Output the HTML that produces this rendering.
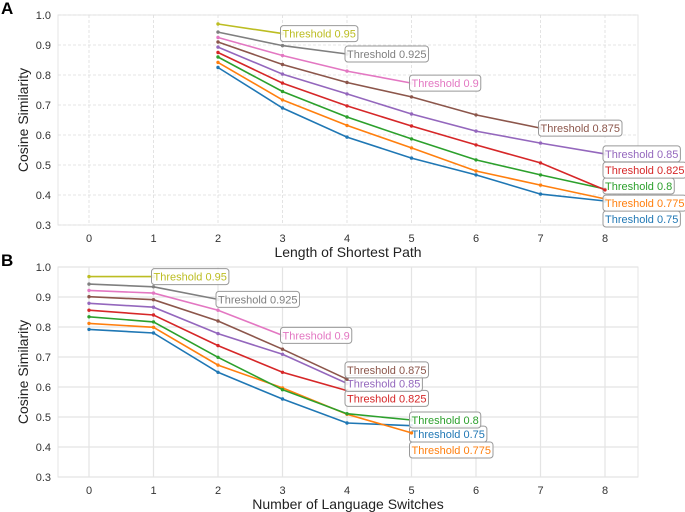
<!DOCTYPE html>
<html><head><meta charset="utf-8"><style>
body{margin:0;background:#fff;}
svg{display:block;font-family:"Liberation Sans",Arial,sans-serif;}
</style></head><body>
<svg id="c" width="685" height="512"></svg>
<script>
const colors=["#1f77b4","#ff7f0e","#2ca02c","#d62728","#9467bd","#8c564b","#e377c2","#7f7f7f","#bcbd22"];
const seriesNames=["Threshold 0.75","Threshold 0.775","Threshold 0.8","Threshold 0.825","Threshold 0.85","Threshold 0.875","Threshold 0.9","Threshold 0.925","Threshold 0.95"];
const xTicks=[0,1,2,3,4,5,6,7,8];
const yTicks=[0.3,0.4,0.5,0.6,0.7,0.8,0.9,1.0];
// Panel A: x starts at 2
const aStart=[2,2,2,2,2,2,2,2,2];
const aVals=[
[0.825,0.69,0.593,0.523,0.467,0.403,0.38],
[0.842,0.717,0.632,0.557,0.48,0.433,0.387],
[0.86,0.745,0.66,0.587,0.517,0.467,0.42],
[0.875,0.773,0.697,0.63,0.567,0.507,0.417],
[0.893,0.803,0.737,0.67,0.613,0.573,0.537],
[0.91,0.835,0.775,0.727,0.667,0.623],
[0.925,0.865,0.813,0.773],
[0.943,0.898,0.87],
[0.97,0.938]];
const aLabelY=[0.32,0.373,0.43,0.483,0.537,0.623,0.773,0.87,0.938];
// Panel B: x starts at 0
const bStart=[0,0,0,0,0,0,0,0,0];
const bVals=[
[0.792,0.78,0.649,0.56,0.48,0.471],
[0.812,0.799,0.673,0.597,0.509,0.447],
[0.834,0.817,0.699,0.591,0.511,0.49],
[0.856,0.84,0.738,0.649,0.588],
[0.879,0.866,0.778,0.709,0.612],
[0.901,0.891,0.82,0.726,0.626],
[0.922,0.913,0.856,0.772],
[0.943,0.934,0.892],
[0.968,0.968]];
const bLabelY=[0.443,0.39,0.49,0.562,0.612,0.657,0.772,0.892,0.968];

const svg=document.getElementById('c');
const NS="http://www.w3.org/2000/svg";
function mk(t,a,p){const e=document.createElementNS(NS,t);for(const k in a)e.setAttribute(k,a[k]);(p||svg).appendChild(e);return e;}

function panel(letter,top,bottom,dashed,start,vals,labelY,xtitle,pname){
  const g=mk('g',{});
  
  
  const L=58,R=638;
  const xs=v=>89+v*64.5;
  const ys=v=>bottom-(v-0.3)/0.7*(bottom-top);
  const frame=mk('rect',{x:L,y:top,width:R-L,height:bottom-top,fill:'none',stroke:'#e6e6e6','stroke-width':1},g);
  
  const grid=mk('g',{},g);
  
  const ga=dashed?{stroke:'#dddddd','stroke-dasharray':'3,2','stroke-width':0.8}:{stroke:'#e4e4e4','stroke-width':1.2};
  xTicks.forEach(t=>{mk('line',Object.assign({x1:xs(t),x2:xs(t),y1:top,y2:bottom},ga),grid);
    const tx=mk('text',{x:xs(t),y:bottom+17,'text-anchor':'middle','font-size':11,fill:'#333'},g);tx.textContent=t;
    });
  yTicks.forEach(t=>{mk('line',Object.assign({x1:L,x2:R,y1:ys(t),y2:ys(t)},ga),grid);
    const tx=mk('text',{x:L-7,y:ys(t)+4,'text-anchor':'end','font-size':11,fill:'#333'},g);tx.textContent=t.toFixed(1);
    });
  const xt=mk('text',{x:348,y:bottom+32,'text-anchor':'middle','font-size':14,fill:'#222'},g);xt.textContent=xtitle;
  
  const cy=(top+bottom)/2;
  const yt=mk('text',{x:28,y:cy,'text-anchor':'middle','font-size':14,fill:'#222',transform:`rotate(-90 28 ${cy})`},g);yt.textContent='Cosine Similarity';
  
  const pl=mk('text',{x:1,y:top-1,'font-size':17,'font-weight':'bold',fill:'#000'},g);pl.textContent=letter;
  
  vals.forEach((arr,i)=>{
    const sg=mk('g',{},g);
    
    
    const pts=arr.map((v,j)=>[xs(start[i]+j),ys(v)]);
    const ln=mk('polyline',{points:pts.map(p=>p.join(',')).join(' '),fill:'none',stroke:colors[i],'stroke-width':1.6},sg);
    
    pts.forEach(p=>{const c=mk('circle',{cx:p[0],cy:p[1],r:1.7,fill:colors[i]},sg);
      });
    const lx=pts[pts.length-1][0], ly=ys(labelY[i]);
    const bx=mk('rect',{x:lx-2,y:ly-8,width:10,height:16,rx:3,fill:'#fff','fill-opacity':0.85,stroke:'#999','stroke-width':1},sg);
    
    const lt=mk('text',{x:lx,y:ly+4,'font-size':11,fill:colors[i]},sg);lt.textContent=seriesNames[i];
    
    bx.setAttribute('width',lt.getComputedTextLength()+4);
  });
}
panel('A',15,225,true,aStart,aVals,aLabelY,'Length of Shortest Path','panel-a-shortest-path');
panel('B',267,477,false,bStart,bVals,bLabelY,'Number of Language Switches','panel-b-language-switches');
</script>
</body></html>
